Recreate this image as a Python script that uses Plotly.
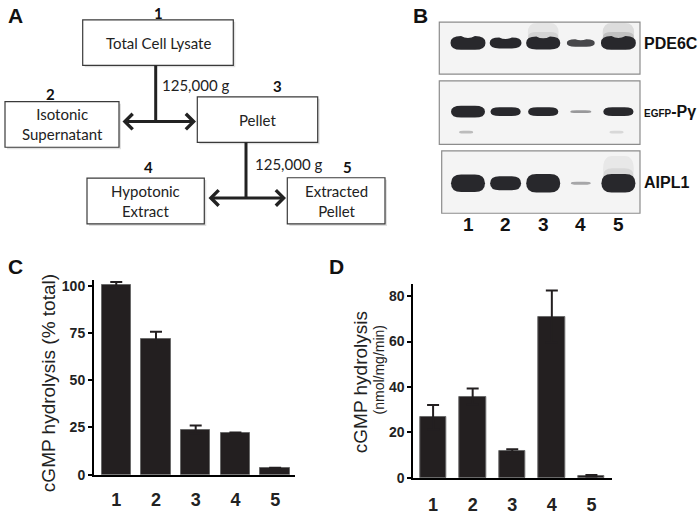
import plotly.graph_objects as go

# ---- data ----
lanes = [1, 2, 3, 4, 5]
lane_labels = ["1", "2", "3", "4", "5"]

# C: cGMP hydrolysis, % of total
pct_total = [100.5, 71.6, 23.9, 22.0, 3.4]
pct_total_sem = [1.4, 4.0, 2.2, 0.3, 0.3]
pct_ticks = [0, 25, 50, 75, 100]

# D: specific activity, nmol/mg/min
spec_act = [26.7, 35.8, 11.7, 71.0, 1.0]
spec_act_sem = [5.4, 3.6, 0.9, 11.4, 0.3]
spec_ticks = [0, 20, 40, 60, 80]

# B: relative band signal per lane
pde6c_signal = [1.0, 0.8, 0.95, 0.55, 1.0]
pde6c_smear = [0, 0, 0.5, 0, 0.8]
egfp_signal = [1.0, 0.75, 0.75, 0.15, 0.75]
egfp_lower = [0.3, 0, 0, 0, 0.15]
aipl1_signal = [1.0, 0.8, 1.05, 0.08, 1.05]
aipl1_smear = [0, 0, 0, 0, 0.4]

# A: fractionation scheme
fractions = ["Total Cell Lysate", "Isotonic<br>Supernatant", "Pellet",
             "Hypotonic<br>Extract", "Extracted<br>Pellet"]
spin = "125,000 g"

W, H = 700, 515
BAR = "#231f20"
ARIAL = "Liberation Sans"
CAL = "Lato"

fig = go.Figure()

# ---- C ----
fig.add_trace(go.Bar(
    x=lanes, y=pct_total, width=0.74,
    marker=dict(color=BAR, line=dict(color="#6a6a6a", width=1)),
    error_y=dict(type="data", array=pct_total_sem, color=BAR, thickness=2, width=6),
    xaxis="x", yaxis="y",
))

# ---- D ----
fig.add_trace(go.Bar(
    x=lanes, y=spec_act, width=0.67,
    marker=dict(color=BAR, line=dict(color="#6a6a6a", width=1)),
    error_y=dict(type="data", array=spec_act_sem, color=BAR, thickness=2, width=6),
    xaxis="x2", yaxis="y2",
))

shapes = []
ann = []


def px(v):
    return v / W


def py(v):
    return (H - v) / H


# ---- A: flow chart (pixel overlay axis x3/y3) ----
boxes = [(82.7, 18.3, 233.3, 65), (5, 102.3, 119, 149), (197.3, 97.3, 317.7, 144),
         (87, 180.7, 204.3, 227.7), (287.3, 180.3, 385, 227.7)]
num_pos = [(158, 11.5), (50, 94), (277.7, 86), (148.3, 169), (347.7, 169)]
for (x0, y0, x1, y1), label, (nx, ny), n in zip(boxes, fractions, num_pos, lane_labels):
    shapes.append(dict(type="rect", xref="x3", yref="y3", x0=x0 + 2, y0=y0 + 2, x1=x1 + 2, y1=y1 + 2,
                       line=dict(width=0), fillcolor="rgba(0,0,0,0.12)"))
    shapes.append(dict(type="rect", xref="x3", yref="y3", x0=x0, y0=y0, x1=x1, y1=y1,
                       line=dict(color="#3a3a3a", width=1.2), fillcolor="white"))
    ann.append(dict(xref="x3", yref="y3", x=(x0 + x1) / 2, y=(y0 + y1) / 2, text=label,
                    showarrow=False, font=dict(family=CAL, size=15, color="#222")))
    ann.append(dict(xref="x3", yref="y3", x=nx, y=ny, text=n, showarrow=False,
                    font=dict(family=CAL, size=15, color="#111", weight="bold")))

for (vx, vy0, vy1, ax0, ax1, tx, ty) in [(155.7, 65, 122.7, 121, 196, 160, 85),
                                          (246, 144, 201, 207, 286, 253, 166.7)]:
    shapes.append(dict(type="line", xref="x3", yref="y3", x0=vx, y0=vy0, x1=vx, y1=vy1,
                       line=dict(color="#222", width=3)))
    ann.append(dict(xref="x3", yref="y3", axref="x3", ayref="y3", x=ax1, y=vy1, ax=ax0, ay=vy1,
                    text="", showarrow=True, arrowhead=4, startarrowhead=4, arrowside="end+start",
                    arrowwidth=3, arrowsize=1, startarrowsize=1, arrowcolor="#222"))
    ann.append(dict(xref="x3", yref="y3", x=tx, y=ty, text=spin, xanchor="left", showarrow=False,
                    font=dict(family=CAL, size=15, color="#222")))

# ---- B: western blot (lanes on x4, pixel rows on y3) ----
LANE_PX = 37.6


def band_path(cx, cy, w, h, dip=0.0):
    rx = w * 0.3
    x0, x1 = cx - w / 2, cx + w / 2
    y0, y1 = cy - h / 2, cy + h / 2
    return (f"M{x0 + rx},{y0} Q{cx},{y0 + dip} {x1 - rx},{y0} Q{x1},{y0} {x1},{cy} "
            f"Q{x1},{y1} {x1 - rx},{y1} L{x0 + rx},{y1} Q{x0},{y1} {x0},{cy} Q{x0},{y0} {x0 + rx},{y0} Z")


panels = [(439.3, 20.7, 640, 74), (439.3, 81, 640, 146), (441.7, 152.7, 640, 216.7)]
for x0, y0, x1, y1 in panels:
    shapes.append(dict(type="rect", xref="x3", yref="y3", x0=x0, y0=y0, x1=x1, y1=y1,
                       line=dict(color="#8c8c8c", width=1.2), fillcolor="#f4f4f4", layer="below"))

rows = [(pde6c_signal, 42, 14, 35, 4, pde6c_smear, 21.5),
        (egfp_signal, 112.5, 12, 34, 0, None, 0),
        (aipl1_signal, 186, 18, 34, 0, aipl1_smear, 158)]
for sig, cy, bh, bw, dip, smear, top in rows:
    for lane, s in zip(lanes, sig):
        h = max(3, bh * s)
        w = bw * min(1.0, 0.55 + 0.45 * s) / LANE_PX
        if smear is not None and smear[lane - 1] > 0:
            for frac, op in [(1.0, 0.22), (0.55, 0.3)]:
                y_top = cy - (cy - top) * frac
                shapes.append(dict(type="path", xref="x4", yref="y3",
                                   path=band_path(lane, (y_top + cy) / 2, w * 0.9, cy - y_top),
                                   fillcolor="rgb(110,110,110)", opacity=op * smear[lane - 1],
                                   line=dict(width=0)))
        shapes.append(dict(type="path", xref="x4", yref="y3",
                           path=band_path(lane, cy, w, h, dip * s),
                           fillcolor="rgb(40,40,44)", opacity=min(1.0, 0.3 + s),
                           line=dict(width=0)))
for lane, s in zip(lanes, egfp_lower):
    if s > 0:
        shapes.append(dict(type="path", xref="x4", yref="y3",
                           path=band_path(lane - 0.05, 133.5, 14 / LANE_PX, 3),
                           fillcolor="rgb(60,60,60)", opacity=s, line=dict(width=0)))

for lane, lab in zip(lanes, lane_labels):
    ann.append(dict(xref="x4", yref="y3", x=lane, y=228.5, text=lab, showarrow=False,
                    font=dict(family=ARIAL, size=19, color="#111", weight="bold")))
for txt, y in [("PDE6C", 43), ("<span style='font-size:10px'>EGFP</span>-Pγ", 112), ("AIPL1", 185)]:
    ann.append(dict(xref="x3", yref="y3", x=642, y=y, text=txt, xanchor="left", showarrow=False,
                    font=dict(family=ARIAL, size=16, color="#111", weight="bold")))

# ---- axis titles and panel letters ----
ann.append(dict(xref="x3", yref="y3", x=48, y=391, text="cGMP hydrolysis (% total)", textangle=-90,
                showarrow=False, font=dict(family=ARIAL, size=19, color="#222")))
ann.append(dict(xref="x3", yref="y3", x=360, y=390, text="cGMP hydrolysis", textangle=-90,
                showarrow=False, font=dict(family=ARIAL, size=19, color="#222")))
ann.append(dict(xref="x3", yref="y3", x=379, y=378, text="(nmol/mg/min)", textangle=-90,
                showarrow=False, font=dict(family=ARIAL, size=14, color="#222")))
for letter, x, y in [("A", 15, 0), ("B", 420, 0), ("C", 15, 257), ("D", 336, 257)]:
    ann.append(dict(xref="x3", yref="y3", x=x, y=y, yanchor="top", text=letter, showarrow=False,
                    font=dict(family=ARIAL, size=21, color="#111", weight="bold")))

tick_font = dict(family=ARIAL, size=14, color="#222", weight="bold")
xtick_font = dict(family=ARIAL, size=18, color="#222", weight="bold")
common_x = dict(showline=True, linecolor="black", linewidth=2, ticks="", showgrid=False,
                zeroline=False, tickvals=lanes, ticktext=lane_labels, tickfont=xtick_font)
common_y = dict(showline=True, linecolor="black", linewidth=2, ticks="outside", ticklen=4,
                tickwidth=2, tickcolor="black", showgrid=False, zeroline=False, tickfont=tick_font)

fig.update_layout(
    width=W, height=H,
    margin=dict(l=0, r=0, t=0, b=0),
    paper_bgcolor="white", plot_bgcolor="rgba(0,0,0,0)",
    showlegend=False, bargap=0,
    font=dict(family=ARIAL),
    xaxis=dict(domain=[px(94), px(295)], range=[0.44, 5.5], anchor="y", ticklabelstandoff=8, **common_x),
    yaxis=dict(domain=[py(485), py(285.2)], range=[0, 103], anchor="x", tickvals=pct_ticks, **common_y),
    xaxis2=dict(domain=[px(413.3), px(612)], range=[0.5, 5.52], anchor="y2", ticklabelstandoff=9, **common_x),
    yaxis2=dict(domain=[py(488.3), py(289.3)], range=[0, 85.3], anchor="x2", tickvals=spec_ticks, **common_y),
    xaxis3=dict(domain=[0, 1], range=[0, W], visible=False, anchor="y3", fixedrange=True),
    yaxis3=dict(domain=[0, 1], range=[H, 0], visible=False, anchor="x3", fixedrange=True),
    xaxis4=dict(domain=[px(439.3), px(640)], range=[1 + (439.3 - 468) / LANE_PX, 1 + (640 - 468) / LANE_PX],
                visible=False, anchor="y3", fixedrange=True),
    shapes=shapes,
    annotations=ann,
)

# drop the default page margin so the figure fills the window exactly
fig.write_html("out.html", config={"displayModeBar": False},
               post_script="document.body.style.margin = '0';")
